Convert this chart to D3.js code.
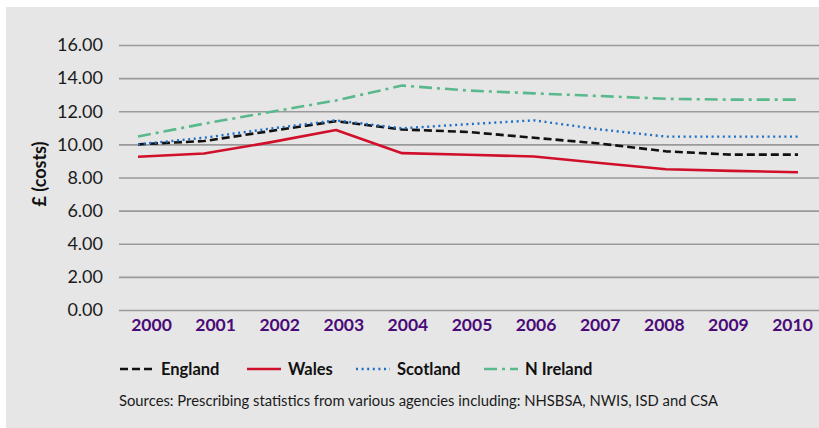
<!DOCTYPE html>
<html>
<head>
<meta charset="utf-8">
<script src="https://cdn.jsdelivr.net/npm/d3@7"></script>
<style>
  html, body { margin: 0; padding: 0; background: #ffffff; }
  svg { display: block; }
</style>
</head>
<body>
<svg id="chart" width="819" height="428"></svg>
<script>
// Prescribing cost per head, by UK nation, 2000-2010
const years = [2000, 2001, 2002, 2003, 2004, 2005, 2006, 2007, 2008, 2009, 2010];
const england  = [10.00, 10.20, 10.80, 11.40, 10.90, 10.75, 10.40, 10.05, 9.58, 9.38, 9.38];
const wales    = [9.25, 9.45, 10.12, 10.87, 9.47, 9.37, 9.27, 8.88, 8.50, 8.40, 8.32];
const scotland = [10.00, 10.40, 10.95, 11.45, 10.97, 11.22, 11.45, 10.90, 10.47, 10.47, 10.47];
const nIreland = [10.47, 11.25, 11.95, 12.65, 13.55, 13.25, 13.08, 12.92, 12.75, 12.70, 12.70];
const yTicks = [0, 2, 4, 6, 8, 10, 12, 14, 16];
const seriesNames = ["England", "Wales", "Scotland", "N Ireland"];
const yTitle = "£ (costs)";
const sourceNote = "Sources: Prescribing statistics from various agencies including: NHSBSA, NWIS, ISD and CSA";

const series = [
  { name: seriesNames[0], values: england,  color: "#111111", dash: "8,4",       width: 2.6 },
  { name: seriesNames[1], values: wales,    color: "#d0102a", dash: null,        width: 2.6 },
  { name: seriesNames[2], values: scotland, color: "#1d6fc6", dash: "2,3.6",     width: 2.4 },
  { name: seriesNames[3], values: nIreland, color: "#5ab98c", dash: "13,5,3,5",  width: 2.6 }
];

const svg = d3.select("#chart");
const font = "'Lato', 'Open Sans', sans-serif";

// panel background
svg.append("rect")
  .attr("x", 6).attr("y", 7)
  .attr("width", 813).attr("height", 421)
  .attr("fill", "#e6e6e6");

const y = d3.scaleLinear().domain([0, 16]).range([310, 45]);
const xLine = d3.scaleLinear().domain([2000, 2010]).range([138, 798]);
const xLabel = d3.scalePoint().domain(years).range([151, 792]);

// gridlines with short tick stubs on the left
const grid = svg.append("g")
  .attr("transform", "translate(119,0)")
  .call(d3.axisLeft(y).tickValues(yTicks).tickSize(-700).tickFormat(d3.format(".2f")).tickPadding(16));
grid.select(".domain").remove();
grid.selectAll(".tick line")
  .attr("stroke", "#9a9a9a").attr("stroke-width", 1.6);
grid.selectAll(".tick text")
  .attr("fill", "#1a1a1a")
  .style("font-family", font)
  .style("font-size", "18px");

// year labels
const xAxis = svg.append("g")
  .attr("transform", "translate(0,310)")
  .call(d3.axisBottom(xLabel).tickSize(0).tickPadding(9));
xAxis.select(".domain").remove();
xAxis.selectAll(".tick text")
  .attr("fill", "#4a0b78")
  .style("font-family", font)
  .style("font-weight", "bold")
  .style("font-size", "17.5px");

// y-axis title
svg.append("text")
  .attr("transform", "translate(46,174) rotate(-90)")
  .attr("text-anchor", "middle")
  .attr("fill", "#111")
  .style("font-family", font)
  .style("font-weight", "bold")
  .style("font-size", "18px")
  .text(yTitle);

// series lines
const line = d3.line()
  .x((d, i) => xLine(years[i]))
  .y(d => y(d));

svg.append("g").selectAll("path")
  .data(series)
  .join("path")
  .attr("d", s => line(s.values))
  .attr("fill", "none")
  .attr("stroke", s => s.color)
  .attr("stroke-width", s => s.width)
  .attr("stroke-dasharray", s => s.dash)
  .attr("stroke-linejoin", "round");

// legend
const legendX = [120, 247, 356, 484];
const legend = svg.append("g").attr("transform", "translate(0,369)");
const items = legend.selectAll("g")
  .data(series)
  .join("g")
  .attr("transform", (s, i) => `translate(${legendX[i]},0)`);
items.append("line")
  .attr("x1", 0).attr("x2", 34)
  .attr("y1", 0).attr("y2", 0)
  .attr("stroke", s => s.color)
  .attr("stroke-width", s => s.width)
  .attr("stroke-dasharray", s => s.dash);
items.append("text")
  .attr("x", 41).attr("y", 6)
  .attr("fill", "#111")
  .style("font-family", font)
  .style("font-weight", "bold")
  .style("font-size", "16.5px")
  .text(s => s.name);

// source note
svg.append("text")
  .attr("x", 119).attr("y", 406)
  .attr("fill", "#1a1a1a")
  .style("font-family", font)
  .style("font-size", "14.8px")
  .text(sourceNote);
</script>
</body>
</html>
